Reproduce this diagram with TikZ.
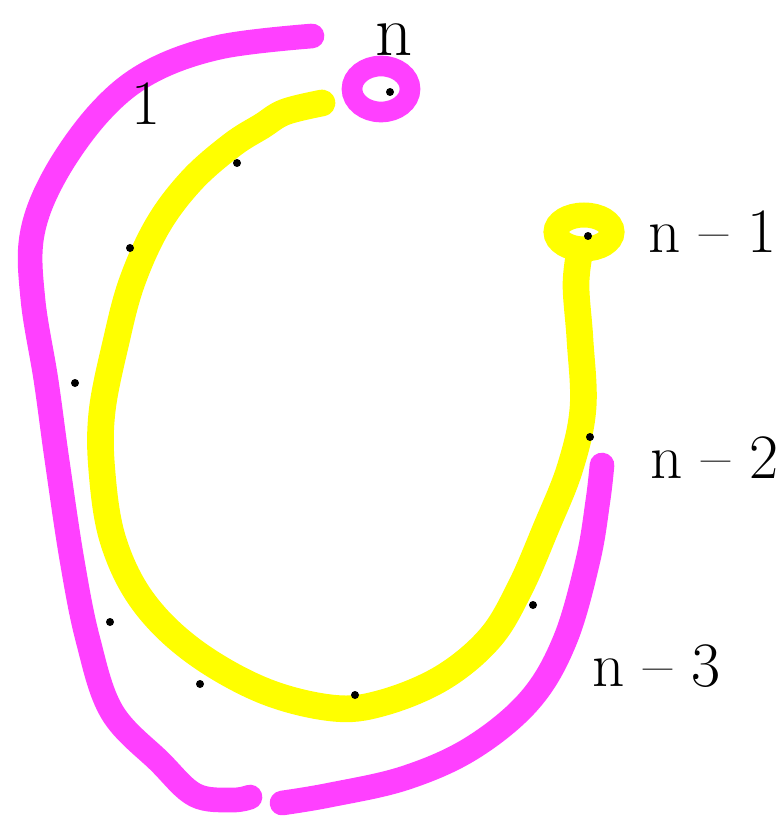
\documentclass[tikz,border=0pt]{standalone}
\definecolor{penpink}{HTML}{FF40FF}
\definecolor{penyellow}{HTML}{FFFF00}
\tikzset{
  pinkpen/.style={draw=penpink, line width=0.74cm, line cap=round, line join=round},
  yellowpen/.style={draw=penyellow, line width=0.8cm, line cap=round, line join=round},
  vdot/.style={fill=black},
  lbl/.style={inner sep=0pt, font=\fontsize{54}{60}\selectfont}
}
\begin{document}
\begin{tikzpicture}[x=0.03cm, y=-0.03cm]
  \useasboundingbox (0,0) rectangle (783,824);

  % äußerer Bogen (pink)
  \draw[pinkpen] plot[smooth, tension=0.6] coordinates {
    (312,36) (220,47) (150,72) (100,112) (55,175) (32,235) (33,300)
    (46,380) (57,460) (72,560) (88,640) (112,712) (160,762) (195,795) (232,800) (250,797)};
  \draw[pinkpen] plot[smooth, tension=0.6] coordinates {
    (282,803) (330,795) (405,778) (472,748) (530,700) (565,640) (588,560) (598,500) (602,465)};

  % Ring um n
  \draw[draw=penpink, line width=0.62cm] (381,89) ellipse (29 and 23);

  % innerer Bogen (gelb)
  \draw[yellowpen] plot[smooth, tension=0.6] coordinates {
    (322,103) (285,112) (262,126) (232,145) (192,180) (158,225) (132,282)
    (116,342) (102,412) (102,472) (113,540) (142,600) (192,650) (262,690)
    (332,708) (382,703) (442,678) (490,638) (520,588) (546,528) (570,468)
    (583,408) (580,340) (576,285) (580,250)};

  % Ring um n-1
  \draw[draw=penyellow, line width=0.75cm] (584,232) ellipse (28 and 17);

  % Eckpunkte
  \foreach \p in {(390,92), (588,236), (75,383), (130,248), (237,163),
                  (590,437), (110,622), (200,684), (355,695), (533,605)}
    \fill[vdot] \p circle (4);

  % Beschriftung
  \node[lbl, font=\fontsize{62}{70}\selectfont, anchor=base] (labn) at (394,56) {n};
  \node[lbl] (labone) at (146,104) {1};
  \node[lbl, anchor=west] (labnm1) at (648,232) {n -- 1};
  \node[lbl, anchor=west] (labnm2) at (650,458) {n -- 2};
  \node[lbl, anchor=west] (labnm3) at (592,666) {n -- 3};
\end{tikzpicture}
\end{document}
